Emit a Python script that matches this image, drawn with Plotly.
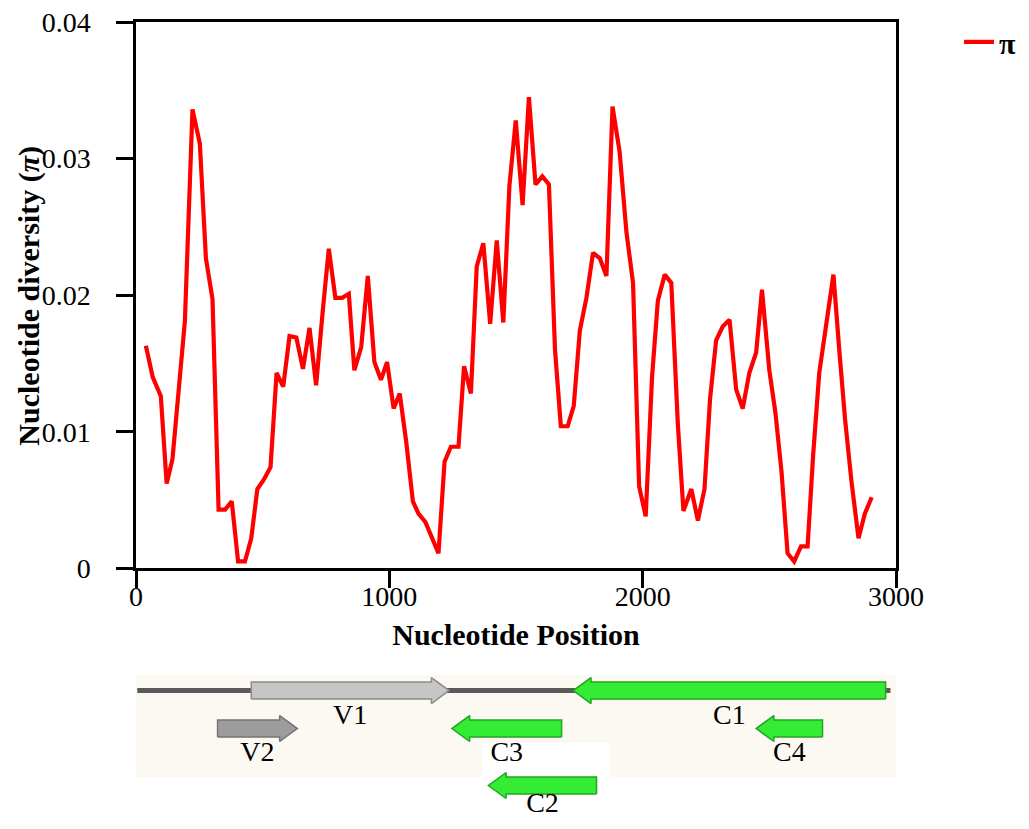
import plotly.graph_objects as go

# sliding-window nucleotide diversity
positions = [39, 66, 98, 121, 144, 193, 223, 252, 276, 302,
             326, 352, 378, 403, 430, 455, 479, 505, 531, 555,
             581, 606, 633, 659, 685, 711, 737, 761, 787, 814,
             840, 862, 889, 915, 941, 967, 991, 1017, 1041, 1067,
             1093, 1115, 1142, 1168, 1194, 1218, 1243, 1273, 1295, 1322,
             1345, 1371, 1398, 1424, 1450, 1474, 1499, 1526, 1551, 1577,
             1604, 1630, 1654, 1677, 1704, 1728, 1752, 1778, 1804, 1831,
             1857, 1881, 1909, 1936, 1962, 1986, 2012, 2037, 2060, 2087,
             2113, 2139, 2161, 2192, 2218, 2244, 2266, 2290, 2316, 2343,
             2369, 2395, 2421, 2448, 2471, 2500, 2524, 2548, 2572, 2598,
             2625, 2651, 2673, 2697, 2723, 2753, 2776, 2799, 2824, 2852,
             2877, 2904]
pi_values = [0.0163, 0.0140, 0.0126, 0.0062, 0.0080, 0.0181, 0.0336, 0.0311, 0.0227, 0.0197,
             0.0043, 0.0043, 0.0049, 0.0005, 0.0005, 0.0022, 0.0058, 0.0065, 0.0074, 0.0143,
             0.0133, 0.0170, 0.0169, 0.0146, 0.0176, 0.0134, 0.0188, 0.0234, 0.0198, 0.0198,
             0.0201, 0.0145, 0.0162, 0.0214, 0.0151, 0.0138, 0.0151, 0.0117, 0.0128, 0.0092,
             0.0049, 0.0040, 0.0034, 0.0023, 0.0011, 0.0078, 0.0089, 0.0089, 0.0148, 0.0128,
             0.0221, 0.0238, 0.0179, 0.0240, 0.0180, 0.0280, 0.0328, 0.0266, 0.0345, 0.0281,
             0.0287, 0.0281, 0.0160, 0.0104, 0.0104, 0.0119, 0.0174, 0.0198, 0.0231, 0.0227,
             0.0214, 0.0338, 0.0305, 0.0246, 0.0209, 0.0060, 0.0038, 0.0140, 0.0196, 0.0215,
             0.0209, 0.0105, 0.0042, 0.0058, 0.0035, 0.0058, 0.0124, 0.0167, 0.0177, 0.0182,
             0.0131, 0.0117, 0.0143, 0.0158, 0.0204, 0.0145, 0.0114, 0.0071, 0.0011, 0.0005,
             0.0016, 0.0016, 0.0083, 0.0143, 0.0176, 0.0215, 0.0160, 0.0109, 0.0064, 0.0022,
             0.0040, 0.0052]
x_ticks = [0, 1000, 2000, 3000]
y_ticks = [0, 0.01, 0.02, 0.03, 0.04]

# genome map (ORFs)
genome_span = [5, 2978]
gene_names = ["V1", "C1", "V2", "C3", "C4", "C2"]
gene_left = [455, 1726, 322, 1247, 2448, 1391]
gene_right = [1236, 2959, 637, 1680, 2710, 1818]
gene_strand = [1, -1, 1, -1, -1, -1]
gene_track = [0, 0, 1, 1, 1, 2]

FONT = "Liberation Serif"
TRACK_Y = [146.5, 108.5, 51.5]    # centre of each map track (y2 units = px)
LABEL_DY = [-26.2, -25.5, -19.5]  # label offset below the arrow, per track
COLORS = {"V1": ("#c6c6c6", "#8c8c8c"), "V2": ("#9c9c9c", "#747474")}
GREEN = ("#33ec33", "#22a522")


def arrow_polygon(left, right, strand, yc, head=70, shaft=8.5, hh=13):
    if strand > 0:
        b = right - head
        xs = [left, b, b, right, b, b, left, left]
    else:
        b = left + head
        xs = [right, b, b, left, b, b, right, right]
    ys = [yc - shaft, yc - shaft, yc - hh, yc, yc + hh, yc + shaft, yc + shaft, yc - shaft]
    return xs, ys


fig = go.Figure()

fig.add_trace(go.Scatter(x=positions, y=pi_values, mode="lines", name="<b>π</b>",
                         line=dict(color="#ff0000", width=4.2)))

# genome backbone
fig.add_trace(go.Scatter(x=genome_span, y=[TRACK_Y[0]] * 2, mode="lines",
                         line=dict(color="#5a5a5a", width=5), showlegend=False,
                         hoverinfo="skip", xaxis="x2", yaxis="y2"))

for name, l, r, s, t in zip(gene_names, gene_left, gene_right, gene_strand, gene_track):
    fill, edge = COLORS.get(name, GREEN)
    xs, ys = arrow_polygon(l, r, s, TRACK_Y[t])
    fig.add_trace(go.Scatter(x=xs, y=ys, mode="lines", fill="toself", fillcolor=fill,
                             line=dict(color=edge, width=1.5), showlegend=False,
                             hoverinfo="skip", xaxis="x2", yaxis="y2"))

fig.add_trace(go.Scatter(x=[(l + r) / 2 for l, r in zip(gene_left, gene_right)],
                         y=[TRACK_Y[t] + LABEL_DY[t] for t in gene_track],
                         mode="text", text=gene_names, showlegend=False,
                         textfont=dict(family=FONT, size=28, color="black"),
                         hoverinfo="skip", xaxis="x2", yaxis="y2"))

axis_common = dict(showline=True, linecolor="black", linewidth=2.5, mirror=True,
                   ticks="outside", ticklen=17, tickwidth=2.5, tickcolor="black",
                   showgrid=False, zeroline=False, tickmode="array",
                   ticklabeloverflow="allow", automargin=False,
                   tickfont=dict(family=FONT, size=28, color="black"))

fig.update_layout(
    width=1013, height=829,
    margin=dict(l=128, r=114.5, t=14, b=0),
    paper_bgcolor="white", plot_bgcolor="white",
    font=dict(family=FONT, color="black"),
    xaxis=dict(axis_common, range=[0, 3000], tickvals=x_ticks, anchor="y",
               ticklabelstandoff=-16,
               title=dict(text="<b>Nucleotide Position</b>", standoff=14,
                          font=dict(family=FONT, size=30))),
    yaxis=dict(axis_common, range=[0, 0.04], tickvals=y_ticks, domain=[0.3297, 1],
               ticklabelstandoff=20),
    xaxis2=dict(range=[0, 3000], anchor="y2", visible=False),
    yaxis2=dict(range=[0, 172], domain=[0, 0.2110], visible=False),
    legend=dict(x=1.0836, y=0.9756, xanchor="left", yanchor="middle",
                font=dict(family=FONT, size=30), bgcolor="rgba(0,0,0,0)"),
    annotations=[
        dict(text="<b>Nucleotide diversity (<i>π</i>)</b>", textangle=-90,
             xref="paper", yref="paper", x=-0.1402, y=0.6648,
             xanchor="center", yanchor="middle", showarrow=False,
             font=dict(family=FONT, size=30, color="black")),
    ],
    shapes=[
        dict(type="rect", xref="x2", yref="y2", x0=0, x1=3000, y0=60, y1=162,
             fillcolor="#fcf9f2", line=dict(width=0), layer="below"),
        dict(type="rect", xref="x2", yref="y2", x0=1366, x1=1870, y0=60, y1=94,
             fillcolor="white", line=dict(width=0), layer="below"),
    ],
)

fig.write_html("out.html")
